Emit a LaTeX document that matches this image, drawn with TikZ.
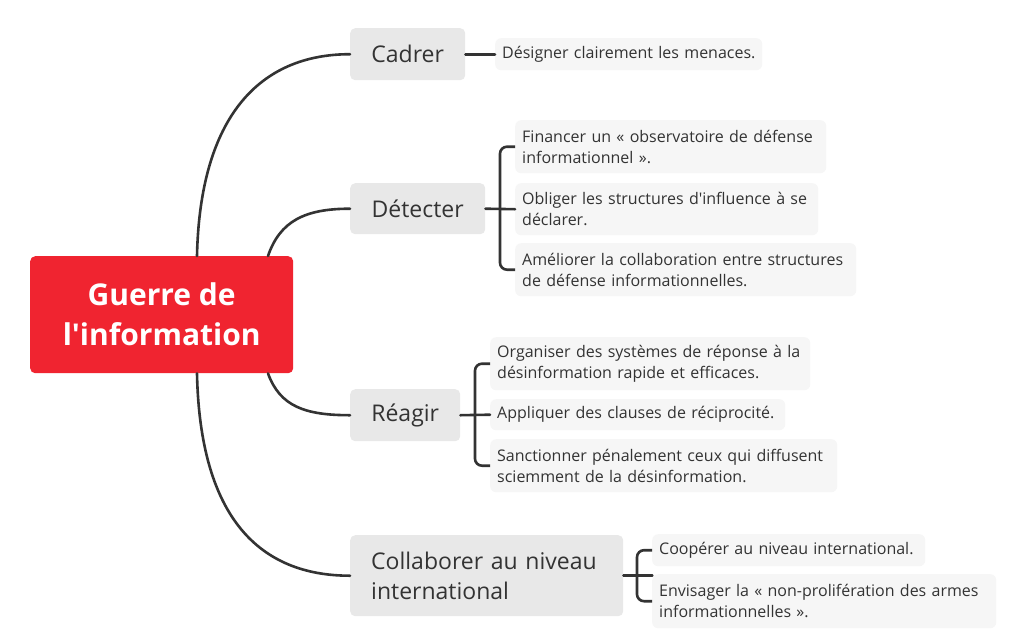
\documentclass[tikz,border=0pt]{standalone}
\usepackage{fontspec}
\setmainfont{Open Sans}[Ligatures=TeXOff]
\usetikzlibrary{calc}
\definecolor{rootred}{RGB}{240,36,48}
\definecolor{topicgray}{RGB}{232,232,232}
\definecolor{leafgray}{RGB}{246,246,246}
\definecolor{linedark}{RGB}{51,51,51}
\definecolor{textdark}{RGB}{51,51,51}
\tikzset{
  rootbox/.style={fill=rootred, rounded corners=5pt, text=white, align=center, inner sep=0pt,
     font=\fontsize{30}{40}\selectfont\bfseries},
  topicbox/.style={fill=topicgray, rounded corners=5pt, text=textdark, inner sep=0pt,
     font=\fontsize{23}{30}\selectfont},
  leafbox/.style={fill=leafgray, rounded corners=6pt, text=textdark, align=left, inner xsep=7pt, inner ysep=0pt,
     font=\fontsize{16}{21}\selectfont},
  conn/.style={draw=linedark, line width=2.6pt, line cap=round},
  brk/.style={draw=linedark, line width=2.6pt, rounded corners=7pt},
}
\begin{document}
\begin{tikzpicture}[x=1pt,y=-1pt]
\useasboundingbox (0,0) rectangle (1024,638);
\fill[white] (0,0) rectangle (1024,638);

% root
\node[rootbox, minimum width=263pt, minimum height=117pt, anchor=north west] (root) at (30,256) {Guerre de\\l'information};

% topics
\node[topicbox, minimum width=115pt, minimum height=52pt, anchor=north west] (cadrer) at (350,28) {Cadrer};
\node[topicbox, minimum width=135pt, minimum height=51pt, anchor=north west] (detecter) at (350,183) {Détecter};
\node[topicbox, minimum width=110pt, minimum height=52pt, anchor=north west] (reagir) at (350,389) {Réagir};
\node[topicbox, minimum width=273pt, minimum height=81pt, anchor=north west, align=left, text width=231pt, inner xsep=21pt] (collab) at (350,535) {Collaborer au niveau\\international};

% leaves
\node[leafbox, text width=253pt, minimum height=32pt, anchor=north west] (l0) at (495,38) {\mbox{Désigner clairement les menaces.}};

\node[leafbox, text width=297pt, minimum height=53pt, anchor=north west] (d1) at (515,120) {Financer un « observatoire de défense\\informationnel ».};
\node[leafbox, text width=289pt, minimum height=52pt, anchor=north west] (d2) at (515,183) {Obliger les structures d'influence à se\\déclarer.};
\node[leafbox, text width=327pt, minimum height=53pt, anchor=north west] (d3) at (515,243) {Améliorer la collaboration entre structures\\de défense informationnelles.};

\node[leafbox, text width=306pt, minimum height=53pt, anchor=north west] (r1) at (490,337) {Organiser des systèmes de réponse à la\\désinformation rapide et efficaces.};
\node[leafbox, text width=281pt, minimum height=31pt, anchor=north west] (r2) at (490,399) {\mbox{Appliquer des clauses de réciprocité.}};
\node[leafbox, text width=333pt, minimum height=53pt, anchor=north west] (r3) at (490,439) {Sanctionner pénalement ceux qui diffusent\\sciemment de la désinformation.};

\node[leafbox, text width=259pt, minimum height=32pt, anchor=north west] (c1) at (652,534) {\mbox{Coopérer au niveau international.}};
\node[leafbox, text width=330pt, minimum height=54pt, anchor=north west] (c2) at (652,574) {Envisager la « non-prolifération des armes\\informationnelles ».};

% curves root -> topics
\draw[conn] ($(root.north west)+(167,0)$) .. controls ($(root.north west)+(170,-140)$) and ($(cadrer.west)+(-90,0)$) .. (cadrer.west);
\draw[conn] ($(root.north west)+(238,0)$) .. controls ($(root.north west)+(250,-35)$) and ($(detecter.west)+(-45,0)$) .. (detecter.west);
\draw[conn] ($(root.south west)+(238,0)$) .. controls ($(root.south west)+(250,33)$) and ($(reagir.west)+(-45,0)$) .. (reagir.west);
\draw[conn] ($(root.south west)+(167,0)$) .. controls ($(root.south west)+(170,145)$) and ($(collab.west)+(-90,0)$) .. (collab.west);

% cadrer
\draw[conn] (cadrer.east) -- (l0.west);

% detecter
\draw[conn] (detecter.east) -- (d2.west);
\draw[brk] (d1.west) -- ($(d1.west)+(-15,0)$) -- ($(d3.west)+(-15,0)$) -- (d3.west);

% reagir
\draw[conn] (reagir.east) -- (r2.west);
\draw[brk] (r1.west) -- ($(r1.west)+(-15,0)$) -- ($(r3.west)+(-15,0)$) -- (r3.west);

% collab
\draw[conn] (collab.east) -- ($(collab.east)+(29,0)$);
\draw[brk] (c1.west) -- ($(c1.west)+(-15,0)$) -- ($(c2.west)+(-15,0)$) -- (c2.west);
\end{tikzpicture}
\end{document}
